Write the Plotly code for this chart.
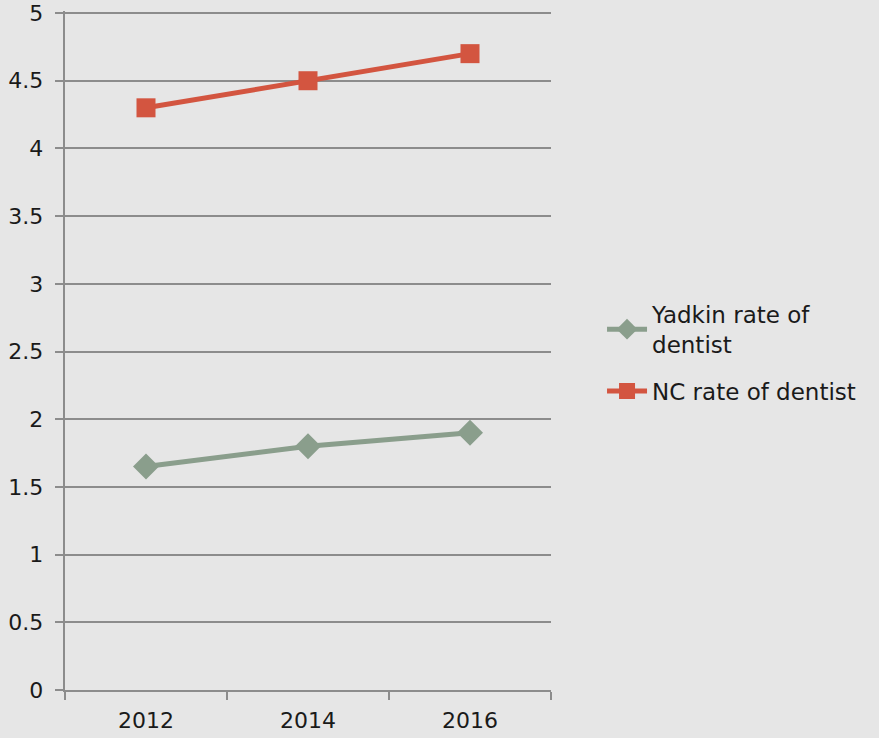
import plotly.graph_objects as go

years = ["2012", "2014", "2016"]
yadkin = [1.65, 1.8, 1.9]
nc = [4.3, 4.5, 4.7]
y_ticks = [0, 0.5, 1, 1.5, 2, 2.5, 3, 3.5, 4, 4.5, 5]
y_labels = ["0", "0.5", "1", "1.5", "2", "2.5", "3", "3.5", "4", "4.5", "5"]

FONT = "DejaVu Sans"
fig = go.Figure()
fig.add_trace(go.Scatter(
    x=years, y=yadkin, name="Yadkin rate of<br>dentist", mode="lines+markers",
    legendgroup="yadkin",
    line=dict(color="#8a9e8c", width=5),
    marker=dict(symbol="diamond", size=20, color="#8a9e8c"),
))
fig.add_trace(go.Scatter(
    x=years, y=nc, name="NC rate of dentist", mode="lines+markers",
    legendgroup="nc",
    line=dict(color="#d35540", width=5),
    marker=dict(symbol="square", size=19, color="#d35540"),
))
fig.update_layout(
    width=879, height=738,
    margin=dict(l=65, r=328, t=11, b=48, autoexpand=False),
    paper_bgcolor="#e6e6e6", plot_bgcolor="#e6e6e6",
    font=dict(family=FONT, size=22, color="#1a1a1a"),
    showlegend=True,
    legend=dict(x=1.105, y=0.585, xanchor="left", yanchor="top",
                bgcolor="rgba(0,0,0,0)", font=dict(size=23),
                tracegroupgap=14, itemwidth=40),
    xaxis=dict(type="category", range=[-0.5, 2.5], tickson="boundaries",
               ticks="outside", ticklen=8, tickcolor="#8c8c8c", tickwidth=2,
               showline=True, linecolor="#8c8c8c", linewidth=2,
               showgrid=False, zeroline=False, tickfont=dict(size=22),
               automargin=False, ticklabelstandoff=10),
    yaxis=dict(range=[0, 5.015], tickvals=y_ticks,
               ticktext=[t + "\u2006\u2006" for t in y_labels],
               ticks="outside", ticklen=8, tickcolor="#8c8c8c", tickwidth=2,
               showline=True, linecolor="#8c8c8c", linewidth=2,
               showgrid=True, gridcolor="#8c8c8c", gridwidth=2,
               zeroline=False, tickfont=dict(size=22), automargin=False),
)
fig.write_html("out.html", config={"displayModeBar": False},
               post_script="document.body.style.margin='0';document.body.style.background='#e6e6e6';")
